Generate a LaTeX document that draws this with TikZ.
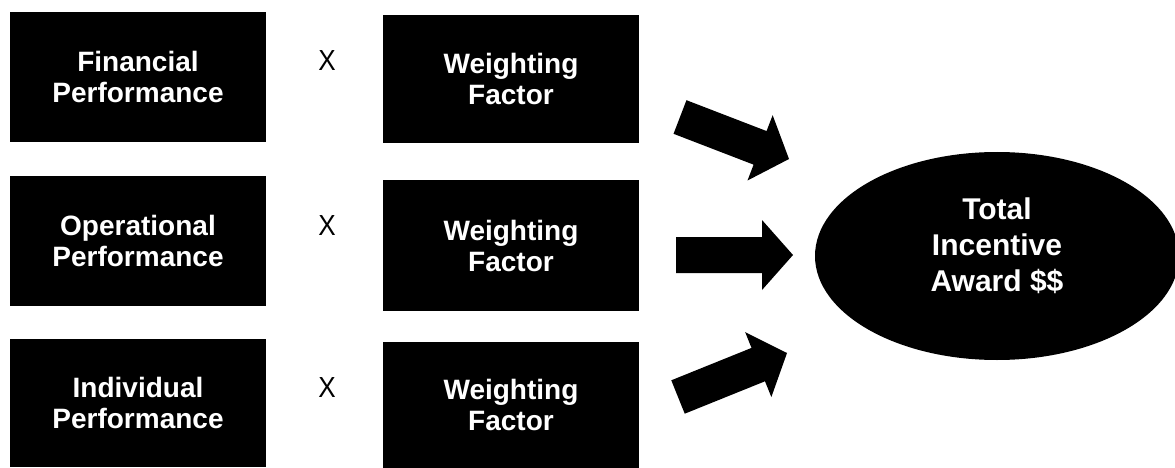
\documentclass[tikz,border=0pt]{standalone}
\usepackage{fontspec}
\setmainfont{Liberation Sans}
\usetikzlibrary{calc,shapes.geometric}
\newcommand\blockarr[2]{%
  \coordinate (J#1) at ($(#2)!31pt!(#1)$);
  \fill[arrowfill] ($(#1)!18pt!90:(#2)$) -- ($(J#1)!18pt!-90:(#1)$) -- ($(J#1)!35pt!-90:(#1)$)
    -- (#2) -- ($(J#1)!35pt!90:(#1)$) -- ($(J#1)!18pt!90:(#1)$) -- ($(#1)!18pt!-90:(#2)$) -- cycle;}
\begin{document}
\begin{tikzpicture}[x=1pt,y=-1pt,
  box/.style={fill=black, text=white, minimum width=256pt, minimum height=130pt,
    inner sep=0pt, align=center, font=\bfseries\fontsize{28}{31}\selectfont},
  times/.style={font=\fontsize{29}{29}\selectfont, inner sep=0pt, xscale=0.9},
  arrowfill/.style={fill=black},
  goal/.style={ellipse, fill=black, minimum width=364pt, minimum height=208pt, inner sep=0pt},
  goaltext/.style={text=white, align=center, inner sep=0pt, font=\bfseries\fontsize{30}{36}\selectfont}]
\useasboundingbox[fill=white] (0,0) rectangle (1175,468);
% left column
\node[box, minimum height=130pt] (fin) at (138,77) {Financial\\Performance};
\node[box, minimum height=130pt] (ope) at (138,241) {Operational\\Performance};
\node[box, minimum height=128pt] (ind) at (138,403) {Individual\\Performance};
% multiply signs
\node[times] (x1) at (327,61) {X};
\node[times] (x2) at (327,226) {X};
\node[times] (x3) at (327,388) {X};
% weighting column
\node[box, minimum height=128pt] (w1) at (511,79) {Weighting\\Factor};
\node[box, minimum height=131pt] (w2) at (511,245.5) {Weighting\\Factor};
\node[box, minimum height=126pt] (w3) at (511,405) {Weighting\\Factor};
% result
\node[goal] (total) at (997,256) {};
\node[goaltext] (totaltext) at ([yshift=10pt]total.center) {Total\\Incentive\\Award \$\$};
% block arrows
\coordinate (t1) at (680,117); \coordinate (h1) at (789,159);
\coordinate (t2) at (676,255); \coordinate (h2) at (793,255);
\coordinate (t3) at (678,397); \coordinate (h3) at (787,353);
\blockarr{t1}{h1}
\blockarr{t2}{h2}
\blockarr{t3}{h3}
\end{tikzpicture}
\end{document}
